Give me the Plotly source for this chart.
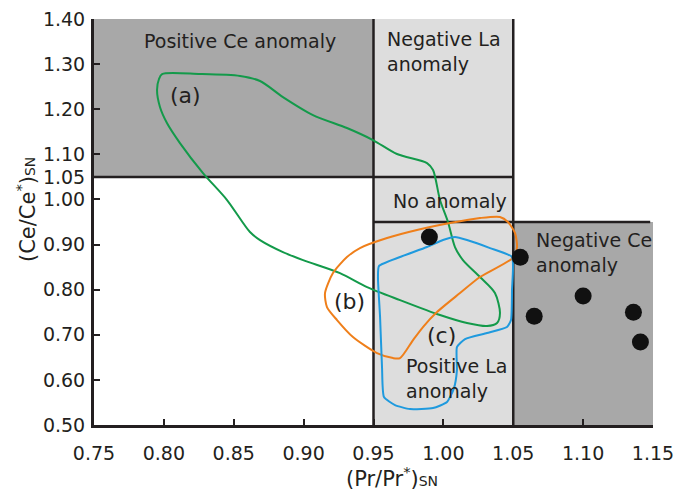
import plotly.graph_objects as go

# Axis limits and anomaly thresholds
x_range = [0.75, 1.15]
y_range = [0.50, 1.40]
pr_lo, pr_hi = 0.95, 1.05   # (Pr/Pr*)SN limits
ce_lo, ce_hi = 0.95, 1.05   # (Ce/Ce*)SN limits

x_ticks = [0.75, 0.80, 0.85, 0.90, 0.95, 1.00, 1.05, 1.10, 1.15]
y_ticks = [0.50, 0.60, 0.70, 0.80, 0.90, 1.00, 1.05, 1.10, 1.20, 1.30, 1.40]

# Field (a)
field_a_x = [0.7987, 0.8259, 0.8545, 0.8688, 0.8852, 0.9067, 0.9310, 0.9496, 0.9668,
             0.9883, 0.9926, 0.9976, 1.0033, 1.0083, 1.0140, 1.0262, 1.0369, 1.0405,
             1.0384, 1.0312, 1.0169, 0.9976, 0.9690, 0.9454, 0.9260, 0.8996, 0.8852,
             0.8688, 0.8616, 0.8452, 0.8280, 0.8115, 0.8022, 0.7972, 0.7951, 0.7965]
field_a_y = [1.278, 1.278, 1.2736, 1.2625, 1.227, 1.1871, 1.1583, 1.1317, 1.1007,
             1.0807, 1.0652, 0.9987, 0.9499, 0.8945, 0.8656, 0.828, 0.7925, 0.7481,
             0.726, 0.7193, 0.726, 0.7437, 0.7769, 0.8058, 0.8368, 0.8656, 0.8834,
             0.910, 0.9277, 0.9987, 1.0585, 1.125, 1.1694, 1.2049, 1.2426, 1.267]

# Field (b)
field_b_x = [0.9153, 0.9210, 0.9310, 0.9403, 0.9597, 0.9811, 1.0047, 1.0262, 1.0405,
             1.0462, 1.0513, 1.0527, 1.0505, 1.0262, 1.0119, 0.9954, 0.9854, 0.9783,
             0.9690, 0.9640, 0.9525, 0.9353, 0.9239, 0.9167]
field_b_y = [0.7925, 0.8368, 0.8723, 0.8922, 0.9144, 0.9322, 0.9477, 0.9588, 0.961,
             0.9499, 0.9255, 0.8945, 0.8723, 0.828, 0.7925, 0.7503, 0.7171, 0.6882,
             0.6483, 0.6483, 0.6594, 0.6949, 0.7326, 0.7614]

# Field (c)
field_c_x = [0.9539, 0.9690, 0.9883, 0.9997, 1.0083, 1.0169, 1.0334, 1.0491, 1.0491,
             1.0484, 1.0455, 1.0312, 1.0155, 1.0097, 1.0097, 1.0076, 1.0026, 0.9926,
             0.9761, 0.9654, 0.9575, 0.9561, 0.9547, 0.9532]
field_c_y = [0.8523, 0.8723, 0.8945, 0.910, 0.9166, 0.910, 0.8922, 0.8723, 0.7991,
             0.7326, 0.7171, 0.7038, 0.6905, 0.6727, 0.6217, 0.5818, 0.5508, 0.5375,
             0.5353, 0.5441, 0.5619, 0.6284, 0.7392, 0.8257]

# Samples
sample_pr = [0.990, 1.055, 1.065, 1.100, 1.136, 1.141]
sample_ce = [0.917, 0.872, 0.741, 0.786, 0.750, 0.684]

INK = "#231f20"
DARK = "#a8a8a8"
LIGHT = "#dddddd"
FONT = "DejaVu Sans"


def closed(xs, ys):
    return xs + xs[:1], ys + ys[:1]


fig = go.Figure()

for xs, ys, col, sm in [(field_a_x, field_a_y, "#139a4a", 0.8),
                        (field_b_x, field_b_y, "#ef7f1a", 0.7),
                        (field_c_x, field_c_y, "#1f9ade", 0.5)]:
    cx, cy = closed(xs, ys)
    fig.add_trace(go.Scatter(x=cx, y=cy, mode="lines",
                             line=dict(color=col, width=2, shape="spline", smoothing=sm),
                             hoverinfo="skip", showlegend=False))

fig.add_trace(go.Scatter(x=sample_pr, y=sample_ce, mode="markers",
                         marker=dict(color="#111111", size=17),
                         showlegend=False))

shapes = [
    # anomaly fields
    dict(type="rect", x0=x_range[0], x1=pr_lo, y0=ce_hi, y1=y_range[1],
         fillcolor=DARK, line_width=0, layer="below"),
    dict(type="rect", x0=pr_hi, x1=x_range[1], y0=y_range[0], y1=ce_lo,
         fillcolor=DARK, line_width=0, layer="below"),
    dict(type="rect", x0=pr_lo, x1=pr_hi, y0=y_range[0], y1=y_range[1],
         fillcolor=LIGHT, line_width=0, layer="below"),
    # boundaries
    dict(type="line", x0=x_range[0], x1=pr_hi, y0=ce_hi, y1=ce_hi,
         line=dict(color=INK, width=2.5), layer="below"),
    dict(type="line", x0=pr_lo, x1=x_range[1] - 0.002, y0=ce_lo, y1=ce_lo,
         line=dict(color=INK, width=2.5), layer="below"),
    dict(type="line", x0=pr_lo, x1=pr_lo, y0=y_range[0], y1=y_range[1],
         line=dict(color=INK, width=2.5), layer="below"),
    dict(type="line", x0=pr_hi, x1=pr_hi, y0=y_range[0], y1=y_range[1],
         line=dict(color=INK, width=2.5), layer="below"),
]

txt = dict(family=FONT, size=19, color=INK)
lbl = dict(family=FONT, size=22, color=INK)
annotations = [
    dict(x=0.8545, y=1.352, text="Positive Ce anomaly", xanchor="center", yanchor="middle"),
    dict(x=0.959, y=1.327, text="Negative La<br>anomaly", xanchor="left", yanchor="middle", align="left"),
    dict(x=1.0047, y=0.996, text="No anomaly", xanchor="center", yanchor="middle"),
    dict(x=1.0656, y=0.882, text="Negative Ce<br>anomaly", xanchor="left", yanchor="middle", align="left"),
    dict(x=0.9725, y=0.604, text="Positive La<br>anomaly", xanchor="left", yanchor="middle", align="left"),
]
for a in annotations:
    a.update(showarrow=False, font=txt, borderpad=0)

for x, y, t in [(0.8155, 1.2315, "(a)"), (0.9325, 0.7747, "(b)"), (0.9983, 0.6993, "(c)")]:
    annotations.append(dict(x=x, y=y, text=t, showarrow=False, font=lbl,
                            xanchor="center", yanchor="middle", borderpad=0))

# axis titles
annotations.append(dict(xref="paper", yref="paper", x=0.533, y=-0.128,
                        text="(Pr/Pr<sup>*</sup>)<span style='font-size:14px'>SN</span>",
                        showarrow=False, font=dict(family=FONT, size=21, color=INK),
                        xanchor="center", yanchor="middle"))
annotations.append(dict(xref="paper", yref="paper", x=-0.1216, y=0.5296,
                        text="(Ce/Ce<sup>*</sup>)<span style='font-size:14px'>SN</span>",
                        showarrow=False, textangle=-90,
                        font=dict(family=FONT, size=21, color=INK),
                        xanchor="center", yanchor="middle"))

axis_common = dict(showgrid=False, zeroline=False, showline=True, linecolor=INK,
                   linewidth=3, ticks="inside", ticklen=6, tickwidth=2, tickcolor=INK,
                   automargin=False,
                   tickfont=dict(family=FONT, size=19, color=INK))

fig.update_layout(
    width=677, height=493,
    margin=dict(l=94, r=24, t=19, b=68),
    paper_bgcolor="white", plot_bgcolor="white",
    shapes=shapes, annotations=annotations,
    xaxis=dict(range=x_range, tickvals=x_ticks,
               ticktext=[f"{v:.2f}" for v in x_ticks], ticklabelstandoff=9,
               **axis_common),
    yaxis=dict(range=y_range, tickvals=y_ticks,
               ticktext=[f"{v:.2f}" for v in y_ticks], ticklabelstandoff=2,
               **axis_common),
    showlegend=False,
)

fig.write_html("out.html")
